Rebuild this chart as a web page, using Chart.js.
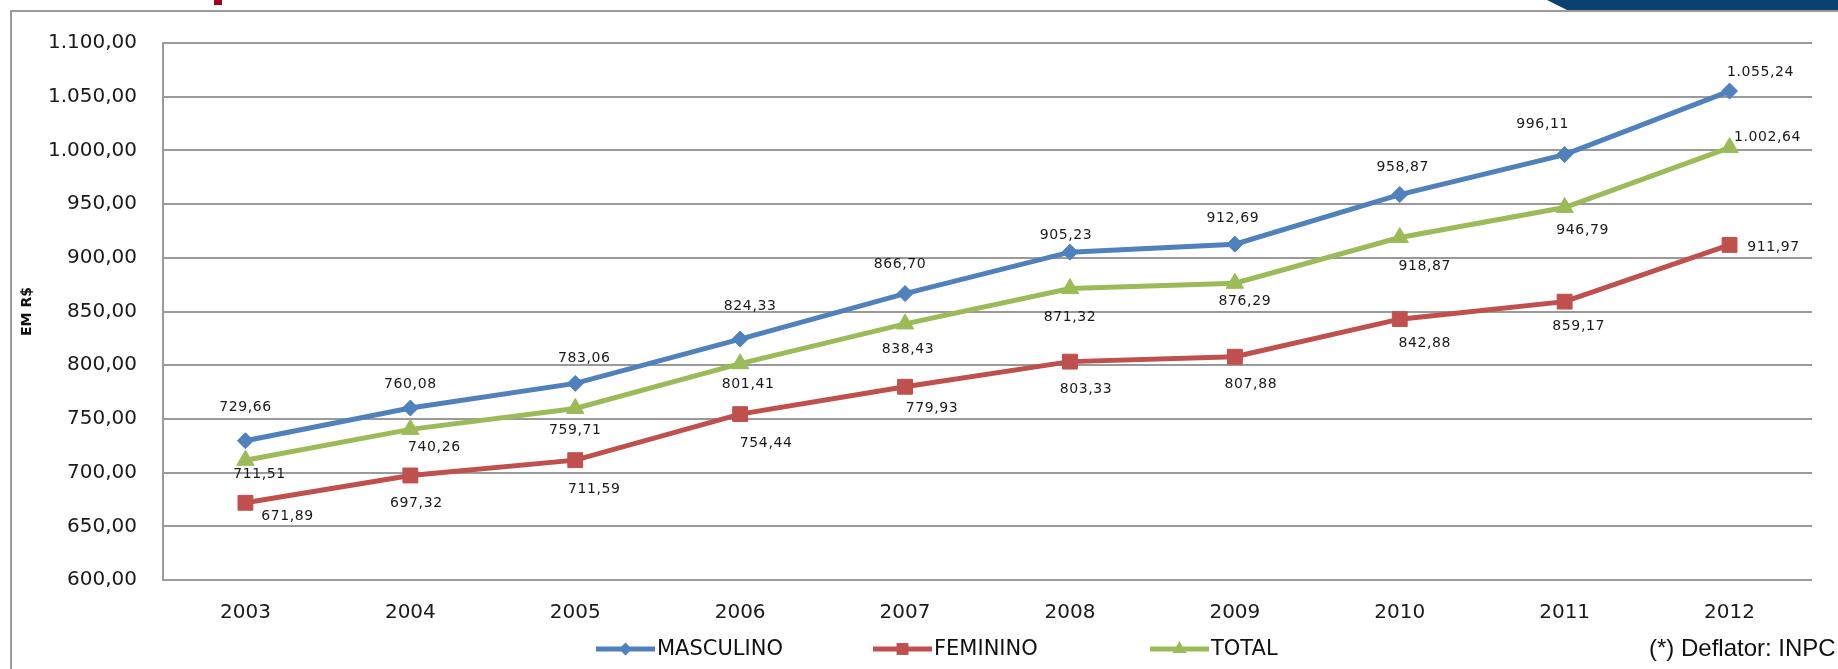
<!DOCTYPE html>
<html>
<head>
<meta charset="utf-8">
<script src="https://cdn.jsdelivr.net/npm/chart.js@4.4.0/dist/chart.umd.min.js"></script>
<style>
  html, body { margin: 0; padding: 0; background: #fff; overflow: hidden; }
  #wrap { position: relative; width: 1838px; height: 669px; overflow: hidden; }
  #frame { position: absolute; left: 10px; top: 10px; width: 1900px; height: 720px; border: 2px solid #9a9a9a; }
  #band { position: absolute; left: 1547px; top: 0; width: 291px; height: 10px; background: #0b416e;
          clip-path: polygon(0 0, 100% 0, 100% 100%, 20px 100%); }
  #mark { position: absolute; left: 214px; top: 0; width: 8px; height: 5px; background: #a50021; }
  #note { position: absolute; left: 1649px; top: 634px; font: 24px "Liberation Sans", sans-serif; color: #111; white-space: nowrap; }
  canvas { position: absolute; left: 0; top: 0; }
</style>
</head>
<body>
<div id="wrap">
  <div id="frame"></div>
  <div id="band"></div>
  <div id="mark"></div>
  <canvas id="chart" width="1838" height="669"></canvas>
  <div id="note">(*) Deflator: INPC</div>
</div>
<script>
const years = ["2003", "2004", "2005", "2006", "2007", "2008", "2009", "2010", "2011", "2012"];
const masculino = [729.66, 760.08, 783.06, 824.33, 866.70, 905.23, 912.69, 958.87, 996.11, 1055.24];
const feminino = [671.89, 697.32, 711.59, 754.44, 779.93, 803.33, 807.88, 842.88, 859.17, 911.97];
const total = [711.51, 740.26, 759.71, 801.41, 838.43, 871.32, 876.29, 918.87, 946.79, 1002.64];
const seriesNames = ["MASCULINO", "FEMININO", "TOTAL"];

// where each value label sits relative to its marker (px)
const labelOffsets = [
  [[0, -33], [0, -24], [9, -25], [10, -33], [-5, -29], [-4, -17], [-2, -26], [3, -27], [-22, -30], [31, -19]],
  [[42, 14], [6, 28], [19, 29], [26, 29], [27, 22], [16, 28], [16, 28], [25, 24], [14, 25], [44, 2]],
  [[14, 14], [24, 18], [0, 22], [8, 21], [3, 25], [0, 29], [10, 18], [25, 29], [18, 23], [38, -10]],
];

const colors = ["#4f81bd", "#c0504d", "#9bbb59"];
const markers = ["rectRot", "rect", "triangle"];
const markerSizes = [8, 10.5, 10];

function fmt(v) {
  const parts = v.toFixed(2).split(".");
  const int = parts[0].replace(/\B(?=(\d{3})+(?!\d))/g, ".");
  return int + "," + parts[1];
}

const valueLabels = {
  id: "valueLabels",
  afterDatasetsDraw(chart) {
    const ctx = chart.ctx;
    ctx.save();
    ctx.font = "14px 'DejaVu Sans'";
    ctx.letterSpacing = "0.6px";
    ctx.fillStyle = "#1a1a1a";
    ctx.textAlign = "center";
    ctx.textBaseline = "middle";
    chart.data.datasets.forEach((ds, i) => {
      chart.getDatasetMeta(i).data.forEach((pt, j) => {
        const off = labelOffsets[i][j];
        ctx.fillText(fmt(ds.data[j]), pt.x + off[0], pt.y + off[1]);
      });
    });
    ctx.restore();
  },
};

// excel style legend: short line with the marker in the middle
const lineLegend = {
  id: "lineLegend",
  afterDraw(chart) {
    const ctx = chart.ctx;
    const y = 649;
    let x = 596;
    ctx.save();
    chart.data.datasets.forEach((ds, i) => {
      ctx.strokeStyle = ds.borderColor;
      ctx.lineWidth = 5;
      ctx.beginPath();
      ctx.moveTo(x, y);
      ctx.lineTo(x + 59, y);
      ctx.stroke();
      ctx.fillStyle = ds.borderColor;
      Chart.helpers.drawPoint(ctx, { pointStyle: ds.pointStyle, radius: ds.pointRadius * 0.8, borderWidth: 0 }, x + 29.5, y);
      ctx.fillStyle = "#111";
      ctx.font = "21px 'DejaVu Sans'";
      ctx.textAlign = "left";
      ctx.textBaseline = "middle";
      ctx.fillText(ds.label, x + 61, y + 1);
      x += 277;
    });
    ctx.restore();
  },
};

const allSeries = [masculino, feminino, total];

new Chart(document.getElementById("chart"), {
  type: "line",
  data: {
    labels: years,
    datasets: allSeries.map((values, i) => ({
      label: seriesNames[i],
      data: values,
      borderColor: colors[i],
      backgroundColor: colors[i],
      borderWidth: 5,
      tension: 0,
      pointStyle: markers[i],
      pointRadius: markerSizes[i],
      pointBackgroundColor: colors[i],
      pointBorderColor: colors[i],
      pointBorderWidth: 1,
    })),
  },
  options: {
    responsive: false,
    animation: false,
    devicePixelRatio: 1,
    layout: { padding: { top: 43, right: 26, bottom: 0, left: 0 } },
    plugins: {
      legend: { display: false },
      tooltip: { enabled: false },
    },
    scales: {
      x: {
        offset: true,
        grid: { display: false, drawTicks: false },
        border: { display: false },
        ticks: { color: "#1a1a1a", font: { family: "DejaVu Sans", size: 20 }, padding: 21, maxRotation: 0 },
        afterFit(scale) { scale.height = 89; },
      },
      y: {
        min: 600,
        max: 1100,
        grid: { color: "#9a9a9a", lineWidth: 2, drawTicks: false },
        border: { display: true, color: "#9a9a9a", width: 2 },
        ticks: {
          stepSize: 50,
          color: "#1a1a1a",
          font: { family: "DejaVu Sans", size: 20 },
          padding: 26,
          callback: (v) => fmt(v),
        },
        title: {
          display: true,
          text: "EM R$",
          color: "#111",
          font: { family: "DejaVu Sans", size: 14, weight: "bold" },
          padding: { top: 19, bottom: 0 },
        },
        afterFit(scale) { scale.width = 163; },
      },
    },
  },
  plugins: [valueLabels, lineLegend],
});
</script>
</body>
</html>
